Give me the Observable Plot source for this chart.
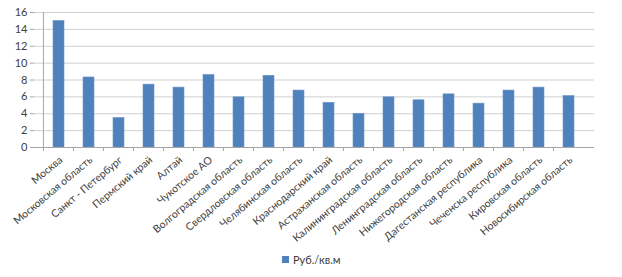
<!DOCTYPE html>
<html>
<head>
<meta charset="utf-8">
<script src="https://cdn.jsdelivr.net/npm/d3@7"></script>
<script src="https://cdn.jsdelivr.net/npm/@observablehq/plot@0.6"></script>
<style>
  body { margin: 0; background: #fff; font-family: Lato, "Liberation Sans", sans-serif; }
  #chart svg { overflow: visible; }
  #legend { position: absolute; left: 282px; top: 253px; font-size: 11px; color: #404040; display: flex; align-items: center; }
  #legend .sw { width: 7px; height: 7px; background: #4f81bd; margin-right: 4px; }
</style>
</head>
<body>
<div id="chart"></div>
<div id="legend"><span class="sw"></span><span>Руб./кв.м</span></div>
<script>
const regions = ["Москва","Московская область","Санкт - Петербург","Пермский край","Алтай","Чукотское АО","Волгоградская область","Свердловская область","Челябинская область","Краснодарский край","Астраханская область","Калининградская область","Ленинградская область","Нижегородская область","Дагестанская республика","Чеченска республика","Кировская область","Новосибирская область"];
const values = [15.0, 8.3, 3.5, 7.45, 7.1, 8.6, 5.95, 8.5, 6.75, 5.3, 4.0, 5.95, 5.6, 6.3, 5.2, 6.75, 7.1, 6.1];
const yTicks = [0, 2, 4, 6, 8, 10, 12, 14, 16];
const seriesName = "Руб./кв.м";

const data = regions.map((r, i) => ({region: r, value: values[i]}));
const W = 622, H = 245;
const mL = 34, mR = 28;
const band = (W - mL - mR) / regions.length;

const chart = Plot.plot({
  width: W,
  height: H,
  marginTop: 12,
  marginBottom: H - 147,
  marginLeft: mL,
  marginRight: mR,
  style: {fontFamily: "Lato, 'Liberation Sans', sans-serif", fontSize: "10px", color: "#404040", overflow: "visible"},
  x: {domain: regions, padding: 0.62, label: null},
  y: {domain: [0, 16], label: null},
  marks: [
    Plot.gridY(yTicks, {stroke: "#d0d0d0", strokeOpacity: 1, strokeWidth: 1}),
    Plot.barY(data, {x: "region", y: "value", fill: "#4f81bd", stroke: "#6f97c8", strokeWidth: 0.6}),
    Plot.ruleY([0], {stroke: "#a6a6a6"}),
    Plot.ruleX([0], {x: () => regions[0], dx: -band / 2, y1: 0, y2: 16, stroke: "#a6a6a6"}),
    Plot.axisY(yTicks, {tickSize: 4, tickPadding: 3, stroke: "#a6a6a6", fontSize: 11, fill: "#404040", tickFormat: d => String(d)}),
    Plot.axisX({tickSize: 4, dx: -band / 2, stroke: "#a6a6a6", tickFormat: () => ""}),
    Plot.axisX({tickSize: 0, tickPadding: 11, dx: 2, tickRotate: -40, fontSize: 10.5, fill: "#404040"})
  ]
});
document.getElementById("chart").appendChild(chart);
</script>
</body>
</html>
